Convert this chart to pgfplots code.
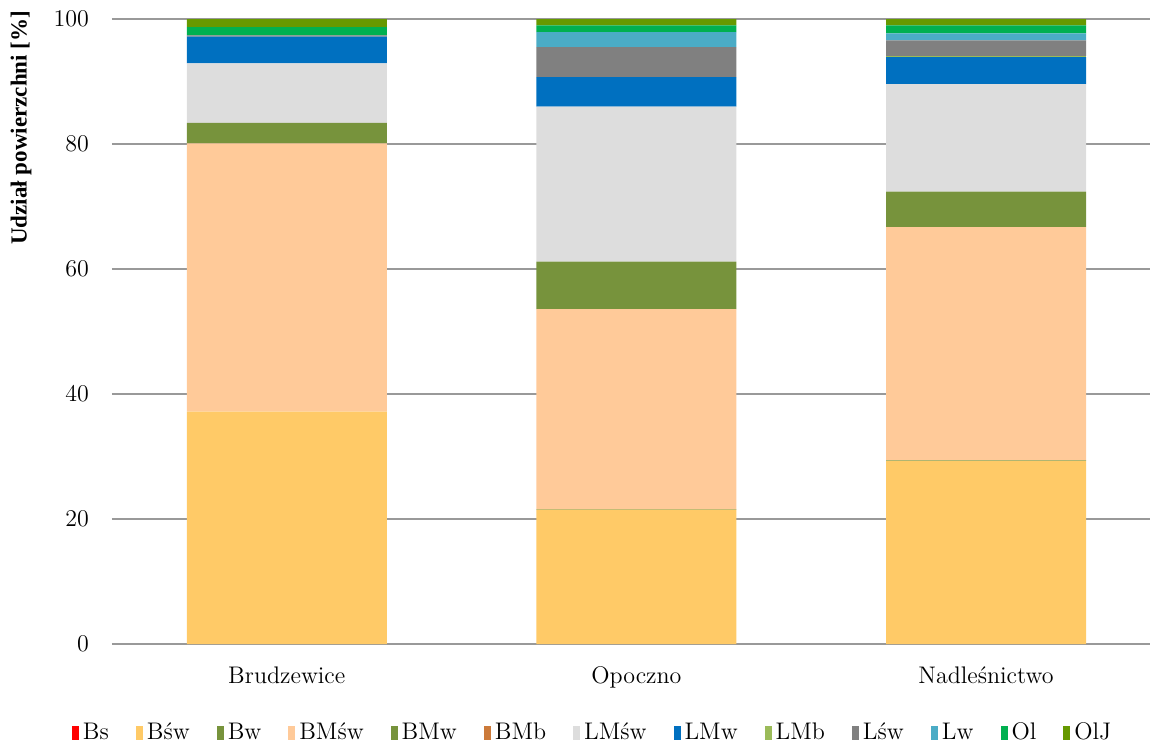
\documentclass[border=0pt]{standalone}
\usepackage{fontspec}
\newfontfamily\labfont{Liberation Serif}
\usepackage{pgfplots}
\pgfplotsset{compat=1.18}
\definecolor{cBs}{HTML}{FF0000}
\definecolor{cBsw}{HTML}{FFCA67}
\definecolor{cBw}{HTML}{77933C}
\definecolor{cBMsw}{HTML}{FFCA99}
\definecolor{cBMw}{HTML}{77933C}
\definecolor{cBMb}{HTML}{CC7A3A}
\definecolor{cLMsw}{HTML}{DDDDDD}
\definecolor{cLMw}{HTML}{0070C0}
\definecolor{cLMb}{HTML}{9BBB59}
\definecolor{cLsw}{HTML}{808080}
\definecolor{cLw}{HTML}{4BACC6}
\definecolor{cOl}{HTML}{00B050}
\definecolor{cOlJ}{HTML}{669900}
\pgfplotsset{
  sq/.style={fill=#1, draw=none,
    legend image code/.code={\fill[##1] (0pt,-3.4pt) rectangle (3.5pt,3.4pt);}},
}
\begin{document}
\begin{tikzpicture}
\begin{axis}[
  width=519pt, height=312.5pt, scale only axis,
  xmin=-0.5, xmax=2.469, ymin=0, ymax=100,
  ybar stacked, bar width=100pt,
  xtick={0,1,2}, xticklabels={Brudzewice,Opoczno,Nadleśnictwo},
  ytick={0,20,40,60,80,100},
  ymajorgrids,
  major grid style={draw=black!40, line width=0.75pt},
  axis line style={draw=none},
  major tick length=0pt,
  xticklabel style={font=\fontsize{12}{14}\selectfont, yshift=-8pt},
  yticklabel style={font=\fontsize{12}{14}\selectfont, xshift=-8pt},
  ylabel={\labfont\bfseries Udział powierzchni [\%]},
  y label style={at={(axis description cs:-0.0876,0.826)}, anchor=center, font=\fontsize{11.5}{14}\selectfont},
  legend style={at={(axis description cs:0.464,-0.1424)}, anchor=center,
    legend columns=13, draw=none, font=\fontsize{12}{14}\selectfont,
    /tikz/every even column/.append style={column sep=11.5pt}},
]
\addplot[sq=cBs] coordinates {(0,0) (1,0) (2,0)};
\addlegendentry{Bs}
\addplot[sq=cBsw] coordinates {(0,37.2) (1,21.5) (2,29.3)};
\addlegendentry{Bśw}
\addplot[sq=cBw] coordinates {(0,0) (1,0.1) (2,0.1)};
\addlegendentry{Bw}
\addplot[sq=cBMsw] coordinates {(0,42.9) (1,32.0) (2,37.3)};
\addlegendentry{BMśw}
\addplot[sq=cBMw] coordinates {(0,3.3) (1,7.6) (2,5.7)};
\addlegendentry{BMw}
\addplot[sq=cBMb] coordinates {(0,0) (1,0) (2,0)};
\addlegendentry{BMb}
\addplot[sq=cLMsw] coordinates {(0,9.5) (1,24.8) (2,17.2)};
\addlegendentry{LMśw}
\addplot[sq=cLMw] coordinates {(0,4.3) (1,4.7) (2,4.3)};
\addlegendentry{LMw}
\addplot[sq=cLMb] coordinates {(0,0) (1,0) (2,0.2)};
\addlegendentry{LMb}
\addplot[sq=cLsw] coordinates {(0,0.2) (1,4.8) (2,2.5)};
\addlegendentry{Lśw}
\addplot[sq=cLw] coordinates {(0,0) (1,2.4) (2,1.1)};
\addlegendentry{Lw}
\addplot[sq=cOl] coordinates {(0,1.3) (1,1.1) (2,1.3)};
\addlegendentry{Ol}
\addplot[sq=cOlJ] coordinates {(0,1.3) (1,1.0) (2,1.0)};
\addlegendentry{OlJ}
\end{axis}
\pgfresetboundingbox
\path ([xshift=-56pt,yshift=-51pt]current axis.south west) rectangle ([yshift=9.5pt]current axis.north east);
\end{tikzpicture}
\end{document}
